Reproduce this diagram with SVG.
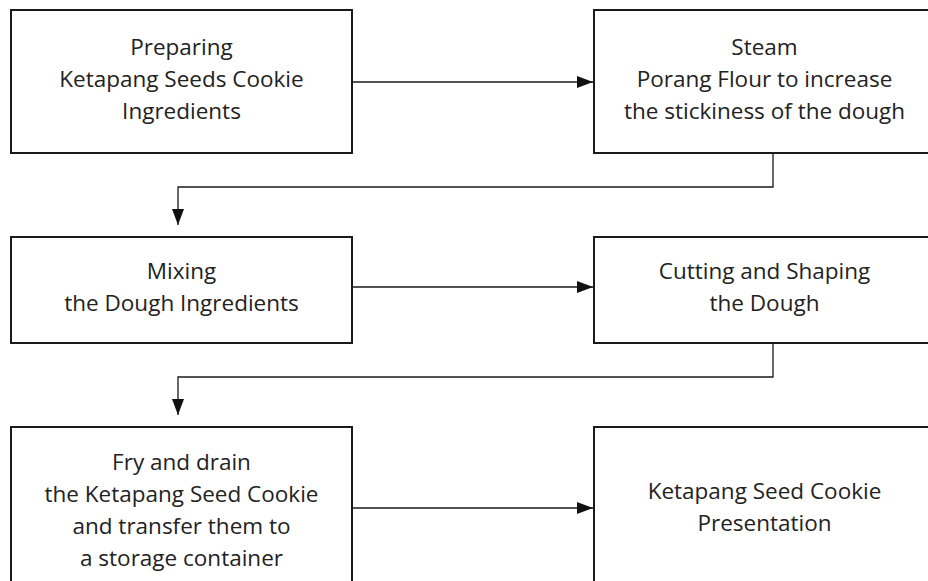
<svg xmlns="http://www.w3.org/2000/svg" width="928" height="581" viewBox="0 0 928 581">
<style>
  .box { fill: #ffffff; stroke: #1a1a1a; stroke-width: 2; }
  .lbl { font-family: "Open Sans", "Liberation Sans", sans-serif; font-size: 22.5px; fill: #222222; text-anchor: middle; }
  .conn { fill: none; stroke: #1a1a1a; stroke-width: 1.3; }
</style>
<defs>
  <marker id="arr" viewBox="0 0 16 12" refX="16" refY="6" markerWidth="16" markerHeight="12" markerUnits="userSpaceOnUse" orient="auto">
    <path d="M0,0 L16,6 L0,12 Z" fill="#111111"/>
  </marker>
</defs>
<rect width="928" height="581" fill="#ffffff"/>
<g id="connectors">
  <path class="conn" d="M352,82 L593,82" marker-end="url(#arr)"/>
  <path class="conn" d="M773,153 L773,187 L178,187 L178,225" marker-end="url(#arr)"/>
  <path class="conn" d="M352,287 L593,287" marker-end="url(#arr)"/>
  <path class="conn" d="M773,343 L773,377 L178,377 L178,415" marker-end="url(#arr)"/>
  <path class="conn" d="M352,508 L593,508" marker-end="url(#arr)"/>
</g>
<g id="node1">
  <rect class="box" x="11" y="10" width="341" height="143"/>
  <text class="lbl" x="181.5" y="55">Preparing</text>
  <text class="lbl" x="181.5" y="87">Ketapang Seeds Cookie</text>
  <text class="lbl" x="181.5" y="119">Ingredients</text>
</g>
<g id="node2">
  <rect class="box" x="594" y="10" width="341" height="143"/>
  <text class="lbl" x="764.5" y="55">Steam</text>
  <text class="lbl" x="764.5" y="87">Porang Flour to increase</text>
  <text class="lbl" x="764.5" y="119">the stickiness of the dough</text>
</g>
<g id="node3">
  <rect class="box" x="11" y="237" width="341" height="106"/>
  <text class="lbl" x="181.5" y="279">Mixing</text>
  <text class="lbl" x="181.5" y="311">the Dough Ingredients</text>
</g>
<g id="node4">
  <rect class="box" x="594" y="237" width="341" height="106"/>
  <text class="lbl" x="764.5" y="279">Cutting and Shaping</text>
  <text class="lbl" x="764.5" y="311">the Dough</text>
</g>
<g id="node5">
  <rect class="box" x="11" y="427" width="341" height="170"/>
  <text class="lbl" x="181.5" y="470">Fry and drain</text>
  <text class="lbl" x="181.5" y="502">the Ketapang Seed Cookie</text>
  <text class="lbl" x="181.5" y="534">and transfer them to</text>
  <text class="lbl" x="181.5" y="566">a storage container</text>
</g>
<g id="node6">
  <rect class="box" x="594" y="427" width="341" height="170"/>
  <text class="lbl" x="764.5" y="499">Ketapang Seed Cookie</text>
  <text class="lbl" x="764.5" y="531">Presentation</text>
</g>
</svg>
